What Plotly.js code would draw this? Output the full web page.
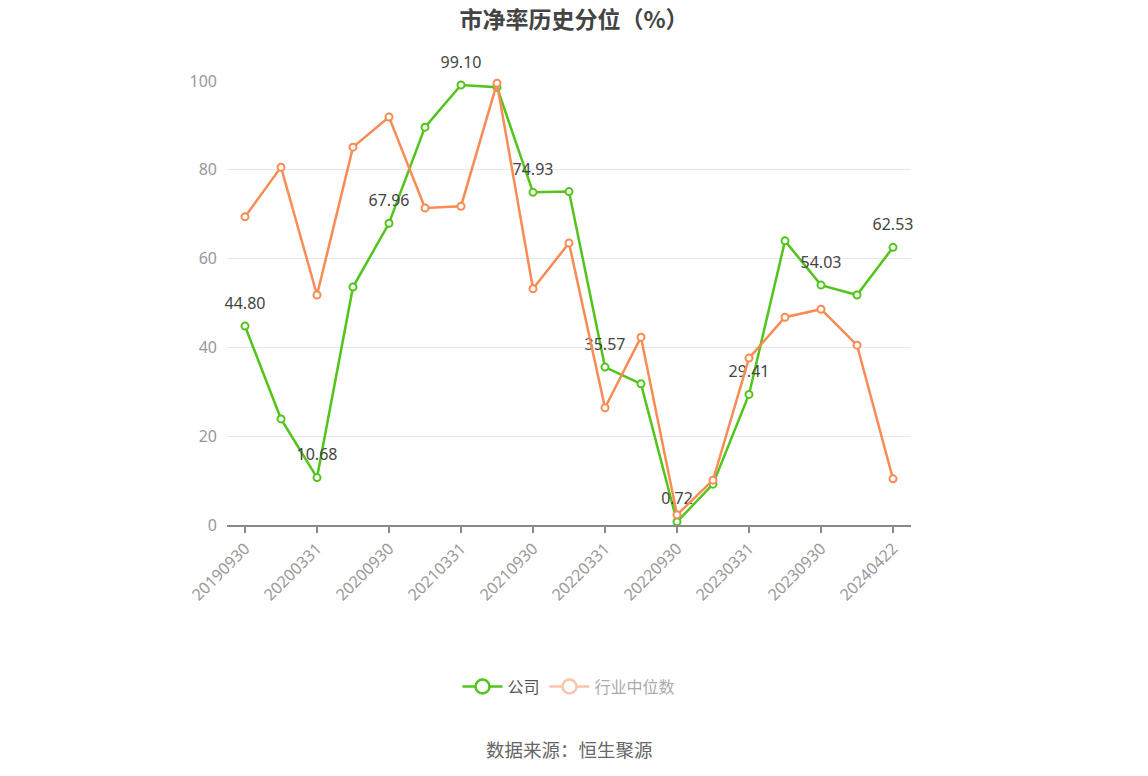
<!DOCTYPE html>
<html>
<head>
<meta charset="utf-8">
<script src="https://cdn.plot.ly/plotly-3.0.1.min.js"></script>
<style>
  html, body { margin: 0; padding: 0; background: #fff; }
  #chart { width: 1148px; height: 776px; }
</style>
</head>
<body>
<div id="chart"></div>
<script>
// report dates (quarterly), only every other one gets a tick label
var dates = ['20190930', '20191231', '20200331', '20200630', '20200930', '20201231',
    '20210331', '20210630', '20210930', '20211231', '20220331', '20220630',
    '20220930', '20221230', '20230331', '20230630', '20230930', '20231229', '20240422'];
var tickDates = ['20190930', '20200331', '20200930', '20210331', '20210930',
    '20220331', '20220930', '20230331', '20230930', '20240422'];

// 公司
var companyValues = [44.80, 23.9, 10.68, 53.6, 67.96, 89.6, 99.10, 98.6, 74.93, 75.1,
    35.57, 31.8, 0.72, 9.2, 29.41, 64.0, 54.03, 51.8, 62.53];
// 行业中位数
var industryValues = [69.4, 80.6, 51.8, 85.1, 91.9, 71.4, 71.8, 99.5, 53.2, 63.5,
    26.4, 42.3, 2.3, 10.1, 37.6, 46.8, 48.6, 40.5, 10.4];

var green = '#52c41a';
var orange = '#f98b55';

// labels only on every other company point
var companyLabels = companyValues.map(function(v, i) {
    return i % 2 === 0 ? v.toFixed(2) : '';
});

var company = {
    x: dates,
    y: companyValues,
    name: '公司',
    type: 'scatter',
    mode: 'lines+markers',
    line: { color: green, width: 2.5 },
    marker: { symbol: 'circle', size: 7, color: '#fff', line: { color: green, width: 2 } },
    cliponaxis: false,
    showlegend: false,
    hoverinfo: 'x+y'
};

// labels sit a bit higher than plotly's default, so use an invisible bigger marker
var companyText = {
    x: dates,
    y: companyValues,
    type: 'scatter',
    mode: 'markers+text',
    text: companyLabels,
    textposition: 'top center',
    textfont: { family: 'Noto Sans, sans-serif', size: 16, color: '#444' },
    marker: { size: 20, color: 'rgba(0,0,0,0)' },
    cliponaxis: false,
    showlegend: false,
    hoverinfo: 'skip'
};

var industry = {
    x: dates,
    y: industryValues,
    name: '行业中位数',
    type: 'scatter',
    mode: 'lines+markers',
    line: { color: orange, width: 2.5 },
    marker: { symbol: 'circle', size: 7, color: '#fff', line: { color: orange, width: 2 } },
    cliponaxis: false,
    showlegend: false,
    hoverinfo: 'x+y'
};

// legend entries only
var legendCompany = {
    x: [null], y: [null], type: 'scatter', mode: 'lines+markers', name: '公司',
    line: { color: green, width: 2.5 },
    marker: { symbol: 'circle', size: 14, color: '#fff', line: { color: green, width: 2.5 } }
};
var legendIndustry = {
    x: [null], y: [null], type: 'scatter', mode: 'lines+markers',
    name: '<span style="color:#aaa">行业中位数</span>',
    line: { color: '#fbc4a8', width: 2.5 },
    marker: { symbol: 'circle', size: 14, color: '#fff', line: { color: '#fbc4a8', width: 2.5 } }
};

var layout = {
    width: 1148,
    height: 776,
    margin: { l: 227, r: 237, t: 81, b: 251 },
    paper_bgcolor: '#fff',
    plot_bgcolor: '#fff',
    font: { family: 'Noto Sans CJK SC, Noto Sans, sans-serif', color: '#999' },
    title: {
        text: '<b>市净率历史分位（%）</b>',
        font: { family: 'Noto Sans CJK SC, sans-serif', size: 23, color: '#444' },
        x: 0.5,
        xanchor: 'center',
        y: 0.974,
        yanchor: 'middle'
    },
    xaxis: {
        type: 'category',
        range: [-0.5, dates.length - 0.5],
        tickmode: 'array',
        tickvals: tickDates,
        ticktext: tickDates,
        tickangle: -45,
        tickfont: { family: 'Noto Sans, sans-serif', size: 16, color: '#999' },
        ticks: 'outside',
        ticklen: 6,
        tickcolor: '#888',
        tickwidth: 1.5,
        showline: true,
        linecolor: '#888',
        linewidth: 2,
        showgrid: false,
        zeroline: false,
        fixedrange: true
    },
    yaxis: {
        range: [0, 100],
        tickvals: [0, 20, 40, 60, 80, 100],
        tickfont: { family: 'Noto Sans, sans-serif', size: 16, color: '#999' },
        ticks: '',
        ticklabelstandoff: 9,
        showline: false,
        showgrid: true,
        gridcolor: '#e3e7ef',
        gridwidth: 1,
        zeroline: false,
        fixedrange: true
    },
    showlegend: true,
    legend: {
        orientation: 'h',
        x: 0.5,
        xanchor: 'center',
        y: -0.364,
        yanchor: 'middle',
        font: { family: 'Noto Sans CJK SC, sans-serif', size: 16, color: '#555' },
        itemwidth: 40,
        traceorder: 'normal'
    },
    annotations: [{
        text: '数据来源：恒生聚源',
        xref: 'paper',
        yref: 'paper',
        x: 0.5,
        xanchor: 'center',
        y: -0.504,
        yanchor: 'middle',
        showarrow: false,
        font: { family: 'Noto Sans CJK SC, sans-serif', size: 18.5, color: '#666' }
    }]
};

Plotly.newPlot('chart', [company, companyText, industry, legendCompany, legendIndustry], layout,
    { displayModeBar: false, staticPlot: true });
</script>
</body>
</html>
